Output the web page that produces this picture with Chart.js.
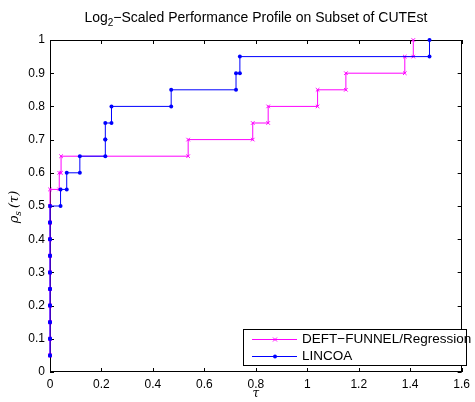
<!DOCTYPE html>
<html>
<head>
<meta charset="utf-8">
<script src="https://cdn.jsdelivr.net/npm/chart.js@4"></script>
<style>
  body { margin: 0; background: #fff; }
  canvas { display: block; }
</style>
</head>
<body>
<canvas id="profileChart" width="475" height="402"></canvas>
<script>
// log2 performance ratios, sorted, one per problem
const lincoaTau = [0, 0, 0, 0, 0, 0, 0, 0, 0, 0, 0.041, 0.065, 0.116, 0.215, 0.215, 0.239, 0.471, 0.723, 0.738, 1.475];
const lincoaRho = [0.05, 0.10, 0.15, 0.20, 0.25, 0.30, 0.35, 0.40, 0.45, 0.50, 0.55, 0.60, 0.65, 0.70, 0.75, 0.80, 0.85, 0.90, 0.95, 1.00];
const deftTau = [0, 0, 0, 0, 0, 0, 0, 0, 0, 0, 0, 0.036, 0.043, 0.537, 0.788, 0.848, 1.04, 1.15, 1.379, 1.412];
const deftRho = [0.05, 0.10, 0.15, 0.20, 0.25, 0.30, 0.35, 0.40, 0.45, 0.50, 0.55, 0.60, 0.65, 0.70, 0.75, 0.80, 0.85, 0.90, 0.95, 1.00];
const xTicks = [0, 0.2, 0.4, 0.6, 0.8, 1, 1.2, 1.4, 1.6];
const yTicks = [0, 0.1, 0.2, 0.3, 0.4, 0.5, 0.6, 0.7, 0.8, 0.9, 1];
const seriesNames = ['DEFT\u2212FUNNEL/Regression', 'LINCOA'];

const FONT = '"Liberation Sans", Arial, Helvetica, sans-serif';
const MAGENTA = '#ff00ff';
const BLUE = '#0000ff';

// stairs: corner points like matlab's stairs() output
function stairs(tau, rho) {
  const pts = [];
  for (let i = 0; i < tau.length; i++) {
    pts.push({ x: tau[i], y: rho[i] });
    if (i + 1 < tau.length) pts.push({ x: tau[i + 1], y: rho[i] });
  }
  return pts;
}

const fmt = v => String(Number(v.toFixed(1)));

const decorations = {
  id: 'decorations',
  beforeDraw(chart) {
    const ctx = chart.ctx;
    ctx.save();
    ctx.fillStyle = '#fff';
    ctx.fillRect(0, 0, chart.width, chart.height);
    ctx.restore();
  },
  beforeDatasetsDraw(chart) {
    const ctx = chart.ctx;
    const a = chart.chartArea;
    const xs = chart.scales.x, ys = chart.scales.y;
    ctx.save();
    // box
    ctx.strokeStyle = '#000';
    ctx.lineWidth = 1;
    ctx.strokeRect(Math.round(a.left) + 0.5, Math.round(a.top) + 0.5,
      Math.round(a.right - a.left) - 1, Math.round(a.bottom - a.top) - 1);

    // inward ticks on all sides
    ctx.beginPath();
    xTicks.forEach(t => {
      const px = Math.round(xs.getPixelForValue(t)) + 0.5;
      ctx.moveTo(px, a.bottom); ctx.lineTo(px, a.bottom - 4);
      ctx.moveTo(px, a.top); ctx.lineTo(px, a.top + 4);
    });
    yTicks.forEach(t => {
      const py = Math.round(ys.getPixelForValue(t)) + 0.5;
      ctx.moveTo(a.left, py); ctx.lineTo(a.left + 4, py);
      ctx.moveTo(a.right, py); ctx.lineTo(a.right - 4, py);
    });
    ctx.stroke();
    ctx.restore();
  },
  afterDraw(chart) {
    const ctx = chart.ctx;
    const a = chart.chartArea;
    ctx.save();

    // title with subscript
    ctx.fillStyle = '#000';
    ctx.textBaseline = 'alphabetic';
    const t1 = 'Log', t3 = '\u2212Scaled Performance Profile on Subset of CUTEst';
    ctx.font = '14px ' + FONT; const w1 = ctx.measureText(t1).width;
    ctx.font = '10px ' + FONT; const w2 = ctx.measureText('2').width;
    ctx.font = '14px ' + FONT; const w3 = ctx.measureText(t3).width;
    let tx = (a.left + a.right) / 2 - (w1 + w2 + w3) / 2;
    const ty = 22;
    ctx.textAlign = 'left';
    ctx.fillText(t1, tx, ty); tx += w1;
    ctx.font = '10px ' + FONT; ctx.fillText('2', tx, ty + 4); tx += w2;
    ctx.font = '14px ' + FONT; ctx.fillText(t3, tx, ty);

    // x label
    ctx.font = 'italic 12px "DejaVu Serif", serif';
    ctx.textAlign = 'center';
    ctx.fillText('\u03c4', (a.left + a.right) / 2, 397);

    // y label rotated
    ctx.save();
    ctx.translate(18, 207);
    ctx.rotate(-Math.PI / 2);
    ctx.textAlign = 'left';
    ctx.font = 'italic 13px "DejaVu Serif", serif';
    const p1 = '\u03c1', p3 = '(\u03c4)';
    const pw1 = ctx.measureText(p1).width;
    ctx.font = 'italic 9px "DejaVu Serif", serif';
    const pw2 = ctx.measureText('s').width;
    ctx.font = 'italic 13px "DejaVu Serif", serif';
    const pw3 = ctx.measureText(p3).width;
    let lx = -(pw1 + pw2 + pw3 + 3) / 2;
    ctx.fillText(p1, lx, 0); lx += pw1;
    ctx.font = 'italic 9px "DejaVu Serif", serif';
    ctx.fillText('s', lx, 3); lx += pw2 + 3;
    ctx.font = 'italic 13px "DejaVu Serif", serif';
    ctx.fillText(p3, lx, 0);
    ctx.restore();

    // legend
    const lg = { x: 243.5, y: 329.5, w: 223, h: 36 };
    ctx.fillStyle = '#fff';
    ctx.fillRect(lg.x, lg.y, lg.w, lg.h);
    ctx.strokeStyle = '#000';
    ctx.lineWidth = 1;
    ctx.strokeRect(lg.x, lg.y, lg.w, lg.h);
    const rows = [
      { y: 339.5, color: MAGENTA, marker: 'x' },
      { y: 356.5, color: BLUE, marker: 'dot' }
    ];
    rows.forEach((r, i) => {
      ctx.strokeStyle = r.color;
      ctx.lineWidth = 1;
      ctx.beginPath();
      ctx.moveTo(252, r.y); ctx.lineTo(297, r.y);
      ctx.stroke();
      if (r.marker === 'x') {
        ctx.beginPath();
        ctx.moveTo(273, r.y - 2); ctx.lineTo(277, r.y + 2);
        ctx.moveTo(277, r.y - 2); ctx.lineTo(273, r.y + 2);
        ctx.stroke();
      } else {
        ctx.fillStyle = r.color;
        ctx.beginPath(); ctx.arc(275, r.y, 2, 0, Math.PI * 2); ctx.fill();
      }
      ctx.fillStyle = '#000';
      ctx.font = '13.5px ' + FONT;
      ctx.textAlign = 'left';
      ctx.textBaseline = 'middle';
      ctx.fillText(seriesNames[i], 302, r.y);
    });
    ctx.restore();
  }
};

new Chart(document.getElementById('profileChart'), {
  type: 'scatter',
  data: {
    datasets: [
      {
        label: seriesNames[1],
        data: stairs(lincoaTau, lincoaRho),
        showLine: true,
        borderColor: BLUE,
        borderWidth: 1,
        pointStyle: 'circle',
        pointRadius: 2,
        pointBackgroundColor: BLUE,
        pointBorderWidth: 0,
        clip: false,
        order: 0
      },
      {
        label: seriesNames[0],
        data: stairs(deftTau, deftRho),
        showLine: true,
        borderColor: MAGENTA,
        borderWidth: 1,
        pointStyle: 'crossRot',
        pointRadius: 2.5,
        pointBorderColor: MAGENTA,
        pointBorderWidth: 1,
        clip: false,
        order: 1
      }
    ]
  },
  options: {
    responsive: false,
    animation: false,
    layout: { padding: { top: 40, right: 8, left: 0, bottom: 0 } },
    plugins: {
      legend: { display: false },
      tooltip: { enabled: false }
    },
    scales: {
      x: {
        type: 'linear',
        min: 0, max: 1.6,
        border: { display: false },
        grid: { display: false, drawTicks: false },
        afterBuildTicks: s => { s.ticks = xTicks.map(v => ({ value: v })); },
        afterFit: s => { s.height = 30; },
        ticks: {
          padding: 5,
          color: '#000',
          font: { family: FONT, size: 12 },
          maxRotation: 0,
          callback: v => fmt(v)
        }
      },
      y: {
        type: 'linear',
        min: 0, max: 1,
        border: { display: false },
        grid: { display: false, drawTicks: false },
        afterBuildTicks: s => { s.ticks = yTicks.map(v => ({ value: v })); },
        afterFit: s => { s.width = 50; },
        ticks: {
          padding: 5,
          color: '#000',
          font: { family: FONT, size: 12 },
          callback: v => fmt(v)
        }
      }
    }
  },
  plugins: [decorations]
});
</script>
</body>
</html>
